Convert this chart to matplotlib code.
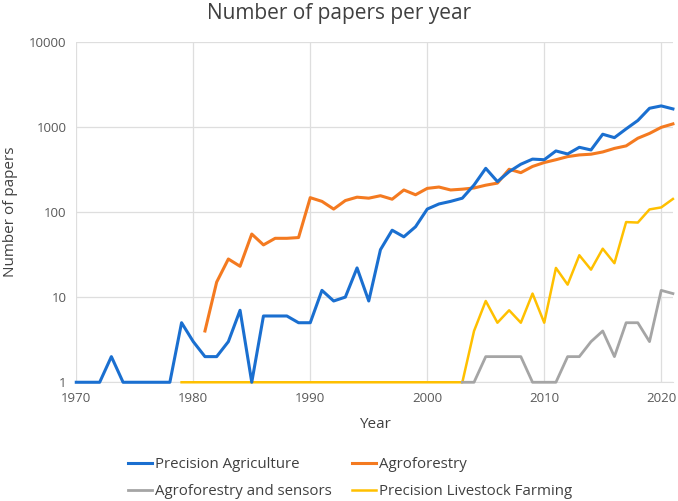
import numpy as np
import matplotlib
matplotlib.use("Agg")
import matplotlib.pyplot as plt
from matplotlib.ticker import FixedLocator, NullLocator

plt.rcParams['font.family'] = ['Open Sans', 'DejaVu Sans']

# Data
years_pa = list(range(1970, 2022))
precision_agriculture = [1, 1, 1, 2, 1, 1, 1, 1, 1, 5,
                         3, 2, 2, 3, 7, 1, 6, 6, 6, 5,
                         5, 12, 9, 10, 22, 9, 36, 61, 51, 67,
                         108, 124, 133, 145, 207, 325, 227, 297, 363, 417,
                         410, 520, 479, 574, 534, 817, 745, 944, 1184, 1648,
                         1757, 1620]

years_af = list(range(1981, 2022))
agroforestry = [4, 15, 28, 23, 55, 41, 49, 49, 50,
                147, 133, 108, 136, 149, 145, 155, 141, 181, 159,
                189, 196, 181, 185, 191, 206, 218, 317, 289, 342,
                380, 410, 446, 467, 476, 506, 557, 596, 733, 835,
                984, 1080]

years_afs = list(range(2003, 2022))
agroforestry_sensors = [1, 1, 2, 2, 2, 2, 1, 1, 1, 2,
                        2, 3, 4, 2, 5, 5, 3, 12, 11]

years_plf = list(range(1979, 2022))
livestock_farming = [1] * 25 + [4, 9, 5, 7, 5, 11, 5, 22, 14, 31,
                                21, 37, 25, 76, 75, 107, 113, 142]

fig = plt.figure(figsize=(6.78, 5.01), dpi=100)
ax = fig.add_axes([0.1125, 0.237, 0.880, 0.680])

l_pa, = ax.plot(years_pa, precision_agriculture, color="#1a6fd0", linewidth=2.2,
                label="Precision Agriculture", zorder=6, clip_on=False)
l_af, = ax.plot(years_af, agroforestry, color="#f47a20", linewidth=2.2,
                label="Agroforestry", zorder=5, clip_on=False)
l_afs, = ax.plot(years_afs, agroforestry_sensors, color="#a5a5a5", linewidth=2.0,
                 label="Agroforestry and sensors", zorder=4, clip_on=False)
l_plf, = ax.plot(years_plf, livestock_farming, color="#ffc000", linewidth=1.8,
                 label="Precision Livestock Farming", zorder=3, clip_on=False)

ax.set_yscale("log")
ax.set_ylim(1, 10000)
ax.set_xlim(1970, 2021)
ax.yaxis.set_major_locator(FixedLocator([1, 10, 100, 1000, 10000]))
ax.yaxis.set_minor_locator(NullLocator())
ax.set_yticklabels(["1", "10", "100", "1000", "10000"])
ax.set_xticks([1970, 1980, 1990, 2000, 2010, 2020])

ax.grid(True, color="#dedede", linewidth=0.9)
ax.set_axisbelow(True)
for side in ["top", "right", "left"]:
    ax.spines[side].set_visible(False)
ax.spines["bottom"].set_color("#dedede")
ax.tick_params(length=0, labelsize=9.5, colors="#595959", pad=7)

ax.set_xlabel("Year", fontsize=11, color="#404040", labelpad=9)
ax.set_ylabel("Number of papers", fontsize=11, color="#404040", labelpad=8)
fig.suptitle("Number of papers per year", fontsize=15, color="#404040", y=0.995)

# legend filled row by row like the original
fig.legend([l_pa, l_afs, l_af, l_plf],
           ["Precision Agriculture", "Agroforestry and sensors",
            "Agroforestry", "Precision Livestock Farming"],
           loc="upper left", bbox_to_anchor=(0.18, 0.099),
           ncol=2, frameon=False, fontsize=10.8, handlelength=1.6,
           handletextpad=0.2, columnspacing=1.35, labelspacing=0.8,
           labelcolor="#404040", borderaxespad=0)

fig.savefig("out.png", dpi=100)
